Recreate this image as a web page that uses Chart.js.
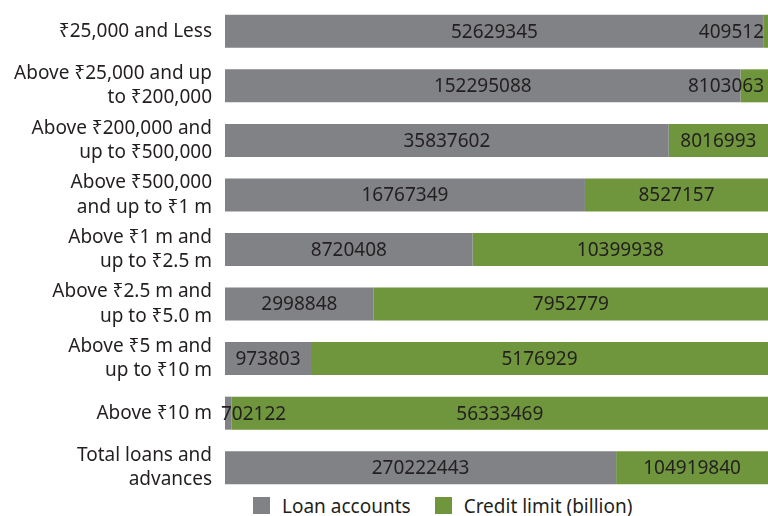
<!DOCTYPE html>
<html>
<head>
<meta charset="utf-8">
<script src="https://cdn.jsdelivr.net/npm/chart.js@4"></script>
<style>
    html, body { margin: 0; padding: 0; background: #fff; }
    #wrap { width: 768px; height: 495px; position: relative; }
    #legend {
        width: 768px; height: 21px; box-sizing: border-box;
        padding-left: 253px; display: flex; align-items: center;
        font-family: "Noto Sans", "DejaVu Sans", sans-serif; font-size: 19px; color: #231f20;
    }
    .legend-item { display: flex; align-items: center; margin-right: 24px; white-space: nowrap; }
    .legend-box { width: 17px; height: 17px; margin-right: 12px; }
</style>
</head>
<body>
<div id="wrap"><canvas id="loan-chart"></canvas></div>
<div id="legend"></div>
<script>
// Categories (multi-line labels, top to bottom)
const categories = [
    ['₹25,000 and Less'],
    ['Above ₹25,000 and up', 'to ₹200,000'],
    ['Above ₹200,000 and', 'up to ₹500,000'],
    ['Above ₹500,000', 'and up to ₹1 m'],
    ['Above ₹1 m and', 'up to ₹2.5 m'],
    ['Above ₹2.5 m and', 'up to ₹5.0 m'],
    ['Above ₹5 m and', 'up to ₹10 m'],
    ['Above ₹10 m'],
    ['Total loans and', 'advances']
];

// Series values
const loanAccounts = [52629345, 152295088, 35837602, 16767349, 8720408, 2998848, 973803, 702122, 270222443];
const creditLimit = [409512, 8103063, 8016993, 8527157, 10399938, 7952779, 5176929, 56333469, 104919840];

const seriesNames = ['Loan accounts', 'Credit limit (billion)'];

// Share of each row (100% stacked)
function share(values, other) {
    return values.map((v, i) => v / (v + other[i]) * 100);
}

const textColor = '#231f20';
const fontFamily = '"Noto Sans", "DejaVu Sans", sans-serif';

// Draw raw values inside the segments
const valueLabels = {
    id: 'valueLabels',
    afterDatasetsDraw(chart) {
        const ctx = chart.ctx;
        const area = chart.chartArea;
        ctx.save();
        ctx.font = '19px ' + fontFamily;
        ctx.fillStyle = textColor;
        ctx.textAlign = 'center';
        ctx.textBaseline = 'middle';
        chart.data.datasets.forEach((ds, d) => {
            const meta = chart.getDatasetMeta(d);
            meta.data.forEach((bar, i) => {
                const text = String(ds.raw[i]);
                const w = ctx.measureText(text).width;
                let x = (bar.x + bar.base) / 2;
                if (x + w / 2 > area.right - 4) x = area.right - 4 - w / 2;
                if (x - w / 2 < area.left - 4) x = area.left - 4 + w / 2;
                ctx.fillText(text, x, bar.y + 1);
            });
        });
        ctx.restore();
    }
};

const ctx = document.getElementById('loan-chart').getContext('2d');
const chart = new Chart(ctx, {
    type: 'bar',
    data: {
        labels: categories,
        datasets: [
            {
                label: seriesNames[0],
                data: share(loanAccounts, creditLimit),
                raw: loanAccounts,
                backgroundColor: '#818286'
            },
            {
                label: seriesNames[1],
                data: share(creditLimit, loanAccounts),
                raw: creditLimit,
                backgroundColor: '#6f963c'
            }
        ]
    },
    options: {
        indexAxis: 'y',
        responsive: true,
        maintainAspectRatio: false,
        animation: false,
        layout: {
            padding: { left: 0, right: 0, top: 4, bottom: 0 }
        },
        categoryPercentage: 0.605,
        barPercentage: 1.0,
        scales: {
            x: {
                stacked: true,
                min: 0,
                max: 100,
                display: false
            },
            y: {
                stacked: true,
                grid: { display: false },
                border: { display: false },
                afterFit(scale) {
                    scale.width = 225;
                    scale.paddingTop = 0;
                    scale.paddingBottom = 0;
                },
                ticks: {
                    padding: 5,
                    color: textColor,
                    font: { family: fontFamily, size: 19, lineHeight: 1.28 }
                }
            }
        },
        plugins: {
            legend: { display: false },
            tooltip: { enabled: false }
        }
    },
    plugins: [valueLabels]
});

// HTML legend
const legendEl = document.getElementById('legend');
chart.data.datasets.forEach(ds => {
    const item = document.createElement('div');
    item.className = 'legend-item';
    const box = document.createElement('span');
    box.className = 'legend-box';
    box.style.background = ds.backgroundColor;
    item.appendChild(box);
    item.appendChild(document.createTextNode(ds.label));
    legendEl.appendChild(item);
});
</script>
</body>
</html>
